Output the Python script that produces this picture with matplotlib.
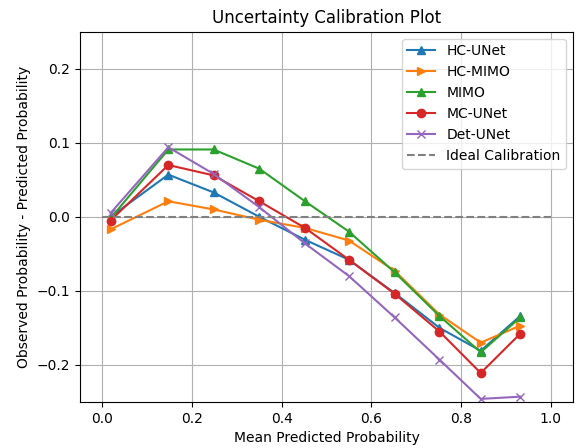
import matplotlib
matplotlib.use("Agg")
import matplotlib.pyplot as plt

x_bins = [0.018, 0.147, 0.248, 0.35, 0.452, 0.55, 0.652, 0.752, 0.844, 0.932]

hc_unet = [0.0, 0.057, 0.033, 0.0, -0.031, -0.058, -0.103, -0.150, -0.181, -0.134]
hc_mimo = [-0.017, 0.021, 0.010, -0.004, -0.015, -0.032, -0.073, -0.132, -0.170, -0.147]
mimo = [-0.002, 0.091, 0.091, 0.065, 0.021, -0.020, -0.075, -0.134, -0.183, -0.136]
mc_unet = [-0.005, 0.070, 0.056, 0.021, -0.015, -0.058, -0.104, -0.155, -0.211, -0.158]
det_unet = [0.005, 0.094, 0.058, 0.013, -0.036, -0.080, -0.136, -0.193, -0.246, -0.243]

series = [
    ("HC-UNet", hc_unet, "^", "#1f77b4"),
    ("HC-MIMO", hc_mimo, ">", "#ff7f0e"),
    ("MIMO", mimo, "^", "#2ca02c"),
    ("MC-UNet", mc_unet, "o", "#d62728"),
    ("Det-UNet", det_unet, "x", "#9467bd"),
]

fig, ax = plt.subplots(figsize=(5.8, 4.48), dpi=100)
for name, vals, m, c in series:
    ax.plot(x_bins, vals, marker=m, color=c, label=name, linewidth=1.5)
ax.plot([0, 1], [0, 0], linestyle="--", color="gray", label="Ideal Calibration")

ax.set_ylim(-0.25, 0.25)
ax.set_xticks([0.0, 0.2, 0.4, 0.6, 0.8, 1.0])
ax.set_yticks([-0.2, -0.1, 0.0, 0.1, 0.2])
ax.grid(True)
ax.set_title("Uncertainty Calibration Plot")
ax.set_xlabel("Mean Predicted Probability")
ax.set_ylabel("Observed Probability - Predicted Probability")
ax.legend(loc="upper right")
fig.subplots_adjust(left=0.138, right=0.988, top=0.929, bottom=0.103)
fig.savefig("out.png", dpi=100)
